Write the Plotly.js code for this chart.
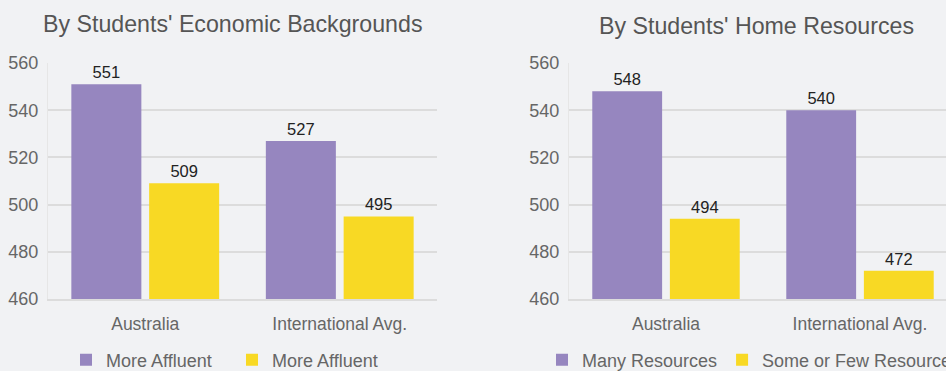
<!DOCTYPE html>
<html><head><meta charset="utf-8">
<script src="https://cdn.plot.ly/plotly-3.0.1.min.js"></script>
<style>html,body{margin:0;padding:0;overflow:hidden;background:#f1f2f4;width:946px;height:371px}</style>
</head><body><div id="chart"></div>
<script>
const categories = ["Australia", "International Avg."];
const econHigh = [551, 527];
const econLow = [509, 495];
const homeMany = [548, 540];
const homeFew = [494, 472];
const econNames = ["More Affluent", "More Affluent"];
const homeNames = ["Many Resources", "Some or Few Resources"];
const titles = ["By Students' Economic Backgrounds", "By Students' Home Resources"];
const yTicks = [460, 480, 500, 520, 540, 560];

const W = 980, H = 390;
const purple = "#9686bf", yellow = "#f8d924";
const font = "Liberation Sans, Arial, sans-serif";

function bar(y, name, color, xa, ya, legend) {
  return {type: "bar", x: categories, y: y, name: name, xaxis: xa, yaxis: ya, legend: legend,
    marker: {color: color}, texttemplate: "%{y}", textposition: "outside", cliponaxis: false,
    textfont: {size: 16.5, color: "#222"}, hoverinfo: "skip"};
}
const data = [
  bar(econHigh, econNames[0], purple, "x", "y", "legend"),
  bar(econLow, econNames[1], yellow, "x", "y", "legend"),
  bar(homeMany, homeNames[0], purple, "x2", "y2", "legend2"),
  bar(homeFew, homeNames[1], yellow, "x2", "y2", "legend2")
];
const yd = [1 - 299 / H, 1 - 63 / H];
function yax(anchor) {
  return {domain: yd, anchor: anchor, range: [460, 560], tickvals: yTicks, showgrid: true,
    gridcolor: "#dcdcdc", gridwidth: 2, zeroline: false, showline: true, linecolor: "#e6e6e6",
    linewidth: 1, tickfont: {size: 18, color: "#666"}, ticklabelstandoff: 5, fixedrange: true};
}
function xax(d, anchor) {
  return {domain: d, anchor: anchor, showline: true, linecolor: "#dcdcdc", linewidth: 2,
    tickfont: {size: 17.5, color: "#666"}, ticklabelstandoff: 8, fixedrange: true};
}
const layout = {
  width: W, height: H, margin: {l: 0, r: 0, t: 0, b: 0},
  paper_bgcolor: "#f1f2f4", plot_bgcolor: "#f1f2f4",
  font: {family: font, color: "#666"},
  barmode: "group", bargap: 0.2, bargroupgap: 0.1,
  xaxis: xax([48 / W, 437 / W], "y"), yaxis: yax("x"),
  xaxis2: xax([569 / W, 957 / W], "y2"), yaxis2: yax("x2"),
  legend: {orientation: "h", x: 66 / W, y: 1 - 360 / H, xanchor: "left", yanchor: "middle",
    font: {size: 18, color: "#666"}, entrywidth: 121, entrywidthmode: "pixels", bgcolor: "rgba(0,0,0,0)"},
  legend2: {orientation: "h", x: 542 / W, y: 1 - 360 / H, xanchor: "left", yanchor: "middle",
    font: {size: 18, color: "#666"}, bgcolor: "rgba(0,0,0,0)"},
  annotations: [
    {text: titles[0], xref: "paper", yref: "paper", x: 233 / W, y: 1 - 24 / H, showarrow: false,
      xanchor: "center", yanchor: "middle", font: {size: 23.2, color: "#555"}},
    {text: titles[1], xref: "paper", yref: "paper", x: 756 / W, y: 1 - 26 / H, showarrow: false,
      xanchor: "center", yanchor: "middle", font: {size: 23.2, color: "#555"}}
  ],
  showlegend: true
};
Plotly.newPlot("chart", data, layout, {staticPlot: true, displayModeBar: false});
</script></body></html>
